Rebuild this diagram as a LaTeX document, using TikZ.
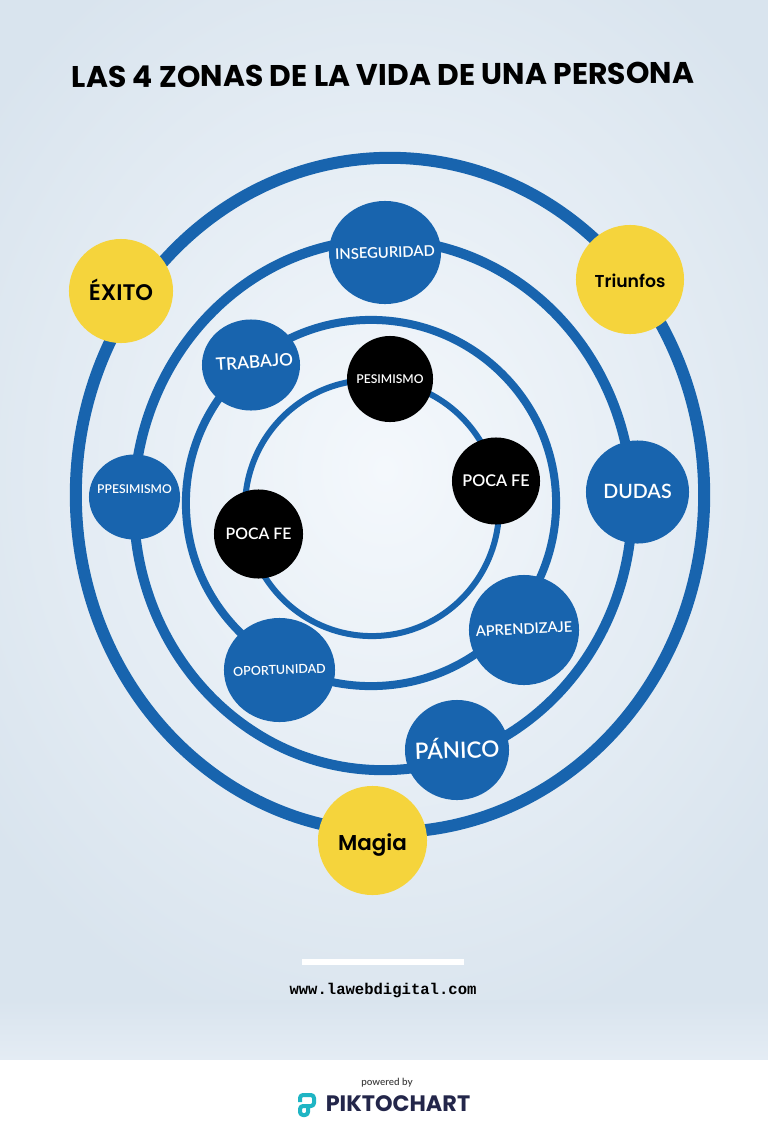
\documentclass[tikz,border=0pt]{standalone}
\usepackage{fontspec}
\usetikzlibrary{shapes.geometric}
\setmainfont{Poppins}
\newfontfamily\goldfont{Poppins SemiBold}
\newfontfamily\labelfont{Lato Semibold}
\newfontfamily\urlfont{Liberation Mono}
\definecolor{ringblue}{HTML}{1864AE}
\definecolor{sunyellow}{HTML}{F5D43C}
\definecolor{logoteal}{HTML}{1FB5C4}
\definecolor{logonavy}{HTML}{23264A}
\definecolor{bginner}{HTML}{F4F8FC}
\definecolor{bgouter}{HTML}{D9E4EE}
\definecolor{bgfoot}{HTML}{E4ECF4}
\newcommand{\zonetext}[3][0]{\makebox[0pt]{\rotatebox{#1}{\fontsize{#2}{#2}\selectfont #3}}}
\newcommand{\nudge}[2]{\raisebox{#1}[\height][\depth]{#2}}
\tikzset{
  zone/.style={shape=ellipse,inner sep=0pt,text=white,font=\labelfont},
  bluezone/.style={zone,fill=ringblue},
  blackzone/.style={zone,fill=black},
  goldzone/.style={zone,fill=sunyellow,text=black,font=\goldfont},
  ring/.style={shape=ellipse,draw=ringblue,inner sep=0pt}
}
\begin{document}
\begin{tikzpicture}[x=0.01cm,y=-0.01cm]
\useasboundingbox (0,0) rectangle (768,1136);

% background
\fill[white] (0,0) rectangle (768,1136);
\fill[bgouter] (0,0) rectangle (768,1059);
\begin{scope}
\clip (0,0) rectangle (768,1059);
\shade[inner color=bginner,outer color=bgouter] (385,470) ellipse (500 and 590);
\shade[top color=bgouter,bottom color=bgfoot] (0,1000) rectangle (768,1059);
\end{scope}

\node[font=\bfseries\fontsize{8.5}{11}\selectfont,rotate=0.4] (title) at (383,75) {LAS 4 ZONAS DE LA VIDA DE UNA PERSONA};

% rings
\node[ring,line width=0.12cm,minimum width=6.28cm,minimum height=6.74cm] (ring4) at (390,495) {};
\node[ring,line width=0.10cm,minimum width=4.98cm,minimum height=5.30cm] (ring3) at (383,505) {};
\node[ring,line width=0.08cm,minimum width=3.70cm,minimum height=3.66cm] (ring2) at (371,503) {};
\node[ring,line width=0.06cm,minimum width=2.54cm,minimum height=2.56cm] (ring1) at (372,508) {};

% outer zone
\node[goldzone,minimum width=1.04cm,minimum height=1.04cm] (exito) at (121,291) {\nudge{0.01cm}{\zonetext{6.4}{ÉXITO}}};
\node[goldzone,minimum width=1.08cm,minimum height=1.09cm] (triunfos) at (630,279.5) {\nudge{-0.01cm}{\zonetext{4.9}{Triunfos}}};
\node[goldzone,minimum width=1.09cm,minimum height=1.09cm] (magia) at (372.5,840.5) {\nudge{-0.05cm}{\zonetext{6.1}{Magia}}};

% second zone
\node[bluezone,minimum width=1.12cm,minimum height=1.03cm] (inseguridad) at (385,252.5) {\zonetext[2]{4.2}{INSEGURIDAD}};
\node[bluezone,minimum width=1.03cm,minimum height=1.03cm] (dudas) at (637.5,492) {\nudge{0.01cm}{\zonetext{5.6}{DUDAS}}};
\node[bluezone,minimum width=0.91cm,minimum height=0.85cm] (ppesimismo) at (134.5,497) {\nudge{0.08cm}{\zonetext{3.45}{PPESIMISMO}}};
\node[bluezone,minimum width=1.04cm,minimum height=1.00cm] (panico) at (457,750) {\nudge{0.02cm}{\zonetext[2]{6.4}{PÁNICO}}};

% third zone
\node[bluezone,minimum width=0.98cm,minimum height=0.91cm] (trabajo) at (251,365) {\nudge{0.03cm}{\hspace*{0.07cm}\zonetext[4]{4.9}{TRABAJO}}};
\node[bluezone,minimum width=1.10cm,minimum height=1.10cm] (aprendizaje) at (524,630) {\nudge{0.01cm}{\zonetext[3]{4.15}{APRENDIZAJE}}};
\node[bluezone,minimum width=1.11cm,minimum height=1.04cm] (oportunidad) at (279.5,670) {\zonetext[2]{3.55}{OPORTUNIDAD}};

% inner zone
\node[blackzone,minimum width=0.86cm,minimum height=0.86cm] (pesimismo) at (390,379) {\zonetext{3.45}{PESIMISMO}};
\node[blackzone,minimum width=0.88cm,minimum height=0.87cm] (pocafeb) at (496,481) {\zonetext{4.6}{POCA FE}};
\node[blackzone,minimum width=0.89cm,minimum height=0.89cm] (pocafea) at (258.5,534) {\zonetext{4.5}{POCA FE}};

% footer
\node[fill=white,inner sep=0pt,minimum width=1.62cm,minimum height=0.06cm] (rule) at (383,962) {};
\node[font=\urlfont\bfseries\fontsize{4.43}{6}\selectfont] (url) at (383,990) {www.lawebdigital.com};
\node[font=\labelfont\fontsize{2.8}{4}\selectfont,text=black!75] (powered) at (387,1083) {powered by};
\node[font=\bfseries\fontsize{6.35}{8}\selectfont,text=logonavy] (brand) at (398,1104) {PIKTOCHART};
\draw[logoteal,line width=0.04cm,line join=round,rounded corners=0.03cm] (300,1102) -- (300,1095) -- (314,1095) -- (314,1106) -- (300,1106) -- (300,1115) -- (308,1115) -- (308,1107);
\end{tikzpicture}
\end{document}
